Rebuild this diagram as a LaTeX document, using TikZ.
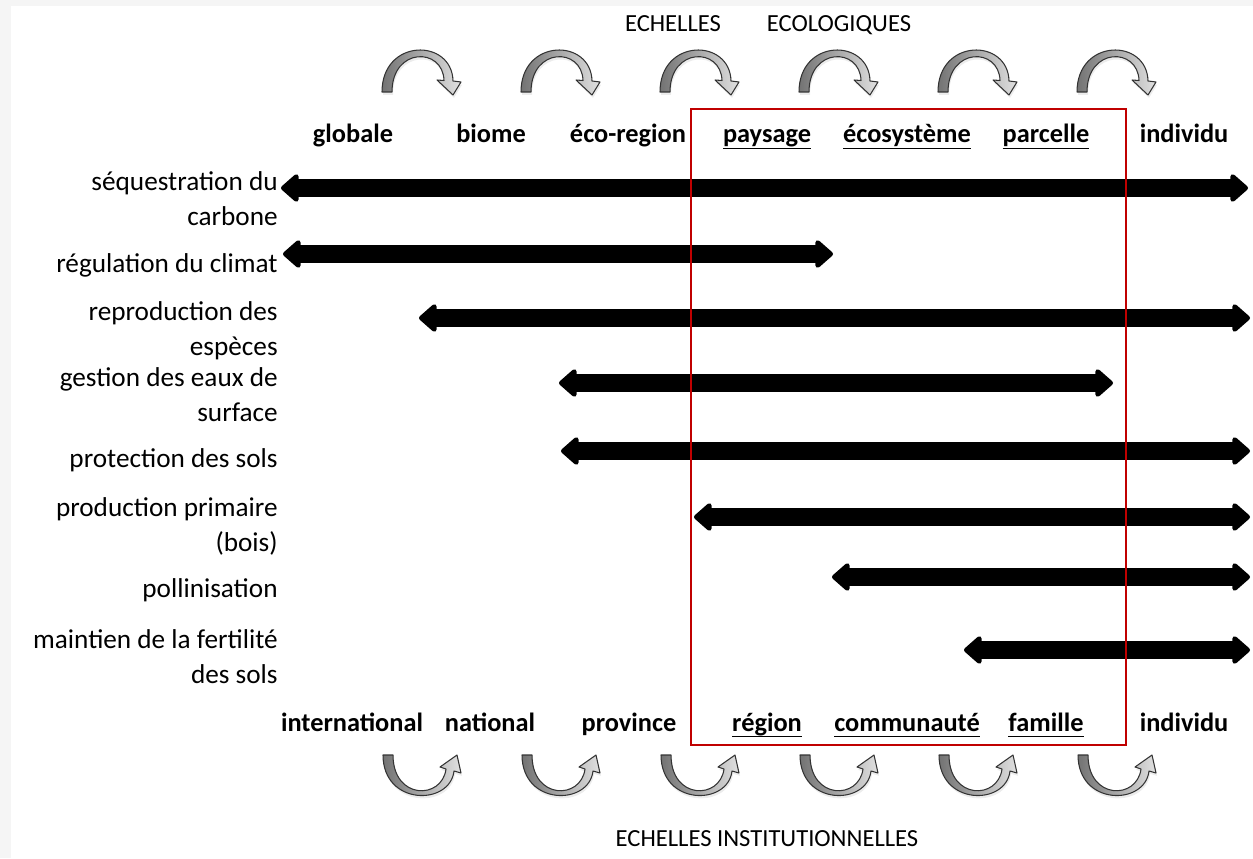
\documentclass[tikz,border=0pt]{standalone}
\usepackage{fontspec}
\setmainfont{Carlito}
\usetikzlibrary{arrows.meta,shadows}
\definecolor{cadre}{RGB}{192,0,0}
\newcommand{\souligne}[1]{\underline{\smash{#1}\rule[-1.5pt]{0pt}{0pt}}}

\begin{document}
\begin{tikzpicture}[x=0.02cm,y=-0.02cm,
  service/.style={anchor=base east,align=right,inner sep=0pt,font=\fontsize{15.5}{19.8}\selectfont},
  echelle/.style={anchor=base,inner sep=0pt,font=\fontsize{15}{18}\selectfont\bfseries},
  titre/.style={anchor=base,inner sep=0pt,font=\fontsize{14}{17}\selectfont},
  fleche/.style={line width=0.36cm,{Triangle[length=3.8mm,width=6.4mm,round]}-{Triangle[length=3.8mm,width=6.4mm,round]}},
  courbe/.style={draw=black!80,line width=0.6pt,line join=round,left color=black!55,right color=black!12,
    drop shadow={opacity=0.15,shadow xshift=0.6pt,shadow yshift=-1.6pt}}]
\useasboundingbox (0,0) rectangle (1253,858);
\fill[black!4] (0,0) rectangle (1253,6);
\fill[black!4] (0,0) rectangle (11,858);

% titres
\node[titre] (echelles) at (673,32) {ECHELLES};
\node[titre] (ecologiques) at (839,32) {ECOLOGIQUES};
\node[titre] (institutionnelles) at (767,846) {ECHELLES INSTITUTIONNELLES};

% echelles ecologiques
\node[echelle] (globale) at (353,143) {globale};
\node[echelle] (biome) at (491,143) {biome};
\node[echelle] (ecoregion) at (628,143) {éco-region};
\node[echelle] (paysage) at (767,143) {\souligne{paysage}};
\node[echelle] (ecosysteme) at (907,143) {\souligne{écosystème}};
\node[echelle] (parcelle) at (1046,143) {\souligne{parcelle}};
\node[echelle] (individuE) at (1184,143) {individu};

% echelles institutionnelles
\node[echelle] (international) at (352,731) {international};
\node[echelle] (national) at (490,731) {national};
\node[echelle] (province) at (629,731) {province};
\node[echelle] (region) at (767,731) {\souligne{région}};
\node[echelle] (communaute) at (907,731) {\souligne{communauté}};
\node[echelle] (famille) at (1046,731) {\souligne{famille}};
\node[echelle] (individuI) at (1184,731) {individu};

% services (base = derniere ligne)
\node[service] (carbone) at (278,225) {séquestration du\\carbone};
\node[service] (climat) at (278,272) {régulation du climat};
\node[service] (reproduction) at (278,355) {reproduction des\\espèces};
\node[service] (eaux) at (278,421) {gestion des eaux de\\surface};
\node[service] (sols) at (278,467) {protection des sols};
\node[service] (bois) at (278,551) {production primaire\\(bois)};
\node[service] (pollinisation) at (278,597) {pollinisation};
\node[service] (fertilite) at (278,683) {maintien de la fertilité\\des sols};

% etendues
\coordinate (carboneG) at (281,188);   \coordinate (carboneD) at (1248,188);
\coordinate (climatG) at (283,254);    \coordinate (climatD) at (833,254);
\coordinate (reproG) at (419,318);     \coordinate (reproD) at (1250,318);
\coordinate (eauxG) at (559,383);      \coordinate (eauxD) at (1113,383);
\coordinate (solsG) at (561,451);      \coordinate (solsD) at (1250,451);
\coordinate (boisG) at (694,517);      \coordinate (boisD) at (1250,517);
\coordinate (pollinG) at (832,577);    \coordinate (pollinD) at (1250,577);
\coordinate (fertG) at (964,650);      \coordinate (fertD) at (1250,650);
\draw[fleche] (carboneG) -- (carboneD);
\draw[fleche] (climatG) -- (climatD);
\draw[fleche] (reproG) -- (reproD);
\draw[fleche] (eauxG) -- (eauxD);
\draw[fleche] (solsG) -- (solsD);
\draw[fleche] (boisG) -- (boisD);
\draw[fleche] (pollinG) -- (pollinD);
\draw[fleche] (fertG) -- (fertD);

% cadre
\draw[cadre,line width=1.1pt] (691,109) rectangle (1126,745);

% fleches courbes
\foreach \cx in {420,559,698,837,976,1115} {
  \path[courbe,shift={(\cx,0)}] (-38,92) .. controls (-38,38) and (32,38) .. (33,81)
    -- (41,82) -- (33,95) -- (17,80) -- (24,80.5)
    .. controls (23,47) and (-28,47) .. (-28,92) -- cycle;
  \path[courbe,shift={(\cx,0)}] (-37,755) .. controls (-37,806) and (30,806) .. (34,771)
    -- (41,773) -- (37,755) -- (20,767) -- (26,769)
    .. controls (22,800) and (-27,800) .. (-27,755) -- cycle;
}
\end{tikzpicture}
\end{document}
